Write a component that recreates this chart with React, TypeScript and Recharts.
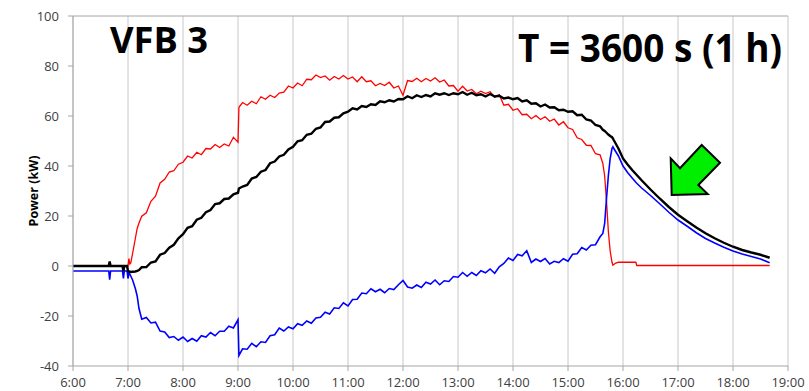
import React from "react";
import { LineChart, Line, XAxis, YAxis, CartesianGrid, ReferenceLine } from "recharts";

// sample times (h:mm), one row per hour block
const times = [
  "6:00", "6:38", "6:39", "6:40", "6:41", "6:53", "6:54", "6:55", "6:56", "6:59", "7:00", "7:01", "7:02", "7:03", "7:05", "7:08", "7:10", "7:12",
  "7:15", "7:20", "7:25", "7:30", "7:35", "7:40", "7:45", "7:50", "7:55",
  "8:00", "8:05", "8:10", "8:15", "8:20", "8:25", "8:30", "8:35", "8:40", "8:45", "8:50", "8:55",
  "9:00", "9:01", "9:05", "9:10", "9:15", "9:20", "9:25", "9:30", "9:35", "9:40", "9:45", "9:50", "9:55",
  "10:00", "10:05", "10:10", "10:15", "10:20", "10:25", "10:30", "10:35", "10:40", "10:45", "10:50", "10:55",
  "11:00", "11:05", "11:10", "11:15", "11:20", "11:25", "11:30", "11:35", "11:40", "11:45", "11:50", "11:55",
  "12:00", "12:05", "12:10", "12:15", "12:20", "12:25", "12:30", "12:35", "12:40", "12:45", "12:50", "12:55",
  "13:00", "13:05", "13:10", "13:15", "13:20", "13:25", "13:30", "13:35", "13:40", "13:45", "13:50", "13:55",
  "14:00", "14:05", "14:10", "14:15", "14:20", "14:25", "14:30", "14:35", "14:40", "14:45", "14:50", "14:55",
  "15:00", "15:05", "15:10", "15:15", "15:20", "15:25", "15:30", "15:35",
  "15:38", "15:40", "15:42", "15:44", "15:46", "15:48", "15:49", "15:50", "15:52", "15:55",
  "16:00", "16:05", "16:10", "16:14", "16:15", "16:20", "16:30", "16:40", "16:50",
  "17:00", "17:10", "17:20", "17:30", "17:40", "17:50",
  "18:00", "18:10", "18:20", "18:30", "18:40",
];

// red trace (kW)
const pvPower = [
  0, 0, 0, 0, 0, 0, 0, 0, 0, 0, 0, 3, 0.8, 1.2, 5, 11, 15, 17.2,
  19.9, 21.3, 25.9, 27.9, 33.2, 34.7, 37.6, 38.1, 40.7,
  41.5, 44.0, 43.2, 45.5, 44.5, 47.0, 46.8, 48.6, 47.4, 48.8, 48.0, 51.5,
  49.5, 63.5, 65.4, 64.3, 65.9, 64.9, 67.7, 66.7, 68.3, 67.4, 69.2, 69.5, 72.0,
  71.2, 73.2, 72.1, 74.7, 74.5, 76.4, 75.4, 76.0, 74.3, 75.8, 74.8, 76.2,
  74.8, 75.6, 73.7, 75.7, 73.7, 74.1, 72.1, 73.0, 72.2, 73.5, 71.2, 72.0,
  68.3, 74.2, 73.8, 75.1, 73.7, 75.0, 74.0, 75.3, 73.6, 74.4, 72.0, 72.2,
  69.9, 71.9, 70.0, 70.6, 68.9, 69.9, 69.0, 69.7, 67.5, 68.5, 64.3, 64.7,
  62.3, 62.9, 60.5, 60.7, 58.9, 60.2, 58.6, 59.7, 57.9, 58.8, 56.4, 57.7,
  55.3, 54.6, 51.3, 50.6, 48.3, 48.2, 44.9, 44.5,
  41, 36, 26, 14, 6, 1.5, 0.3, 0.6, 1.2, 1.5,
  1.5, 1.5, 1.5, 1.5, 0.2, 0.2, 0.2, 0.2, 0.2,
  0.2, 0.2, 0.2, 0.2, 0.2, 0.2,
  0.2, 0.2, 0.2, 0.2, 0.2,
];

// black trace (kW)
const gridPower = [
  0, 0, 0, 1.8, 0, 0, 0, -2, 0, 0, -2, -2.3, -2.2, -2.4, -2.3, -2.2, -2.0, -1.6,
  -0.5, -0.4, 1.4, 1.8, 4.5, 5.2, 7.3, 8.5, 11.1,
  12.7, 15.3, 15.9, 18.5, 19.3, 21.5, 22.4, 24.8, 25.1, 26.8, 27.0, 28.7,
  29.3, 31.0, 31.8, 32.4, 35.0, 35.6, 37.7, 38.4, 41.1, 41.8, 43.8, 44.5, 46.6,
  47.7, 49.9, 50.3, 52.5, 52.9, 54.9, 55.4, 57.6, 57.8, 59.3, 59.5, 61.1,
  61.7, 63.1, 62.6, 64.0, 63.6, 64.7, 64.4, 65.9, 65.5, 66.3, 65.8, 66.8,
  66.7, 67.9, 67.1, 68.3, 67.6, 68.4, 67.8, 69.1, 68.5, 69.1, 68.4, 69.1,
  68.7, 69.6, 68.5, 69.3, 68.3, 68.7, 67.8, 68.8, 67.8, 68.1, 67.0, 67.4,
  66.7, 67.2, 65.8, 66.3, 64.9, 65.1, 63.8, 64.6, 63.4, 63.5, 62.3, 62.5,
  61.7, 61.9, 60.3, 60.5, 58.6, 58.2, 56.4, 55.9,
  54.5, 54.0, 53.3, 52.6, 52.0, 51.5, 51.0, 50.3, 49.0, 47.0,
  43.0, 40.6, 38.4, 36.8, 36.4, 34.4, 30.6, 27.0, 23.6,
  20.5, 17.9, 15.4, 13.1, 11.1, 9.3,
  7.7, 6.4, 5.4, 4.5, 3.3,
];

// blue trace (kW)
const batteryPower = [
  -2, -2, -2, -5.5, -2, -2, -2, -5, -2, -2, -5, -3, -3.2, -4, -5.6, -9, -12, -17,
  -21.3, -20.6, -22.8, -22.5, -26.0, -26.4, -28.6, -28.2, -29.7,
  -28.4, -30.2, -29.0, -30.1, -27.9, -28.4, -26.6, -27.9, -26.1, -26.1, -24.1, -24.8,
  -21.5, -35.8, -33.1, -33.3, -30.9, -32.3, -30.3, -30.6, -27.9, -27.5, -24.8, -26.0, -24.4,
  -25.1, -23.1, -23.7, -22.0, -22.9, -20.8, -20.5, -18.5, -19.2, -16.7, -17.0, -14.7,
  -16.0, -13.4, -13.3, -10.8, -11.1, -9.1, -10.3, -9.3, -10.7, -9.0, -9.4, -7.5,
  -5.8, -8.4, -8.9, -7.6, -8.6, -6.5, -7.2, -5.6, -7.5, -5.9, -6.2, -4.2,
  -4.5, -2.6, -4.1, -2.6, -3.8, -1.9, -2.7, -1.2, -2.9, -0.3, 1.0, 3.2,
  2.2, 4.6, 4.1, 6.1, 1.4, 2.8, 1.8, 3.0, 0.8, 1.9, 1.4, 2.9,
  1.9, 4.7, 4.9, 7.4, 6.4, 8.3, 8.5, 11.7,
  13, 17, 27, 36, 43, 47, 47.7, 47, 45.8, 44,
  40, 37.4, 35.2, 33.5, 33.1, 31.3, 28.2, 24.9, 21.5,
  18.4, 15.9, 13.3, 11.0, 9.2, 7.5,
  6.0, 4.8, 3.8, 2.8, 1.3,
];

const hourTicks = [6, 7, 8, 9, 10, 11, 12, 13, 14, 15, 16, 17, 18, 19];
const powerTicks = [-40, -20, 0, 20, 40, 60, 80, 100];

function toHours(t: string) {
  const [h, m] = t.split(":").map(Number);
  return h + m / 60;
}

const data = times.map((t, i) => ({
  time: toHours(t),
  pv: pvPower[i],
  grid: gridPower[i],
  battery: batteryPower[i],
}));

const axisGray = "#a6a6a6";
const tickStyle = { fill: "#404040", fontSize: 13, fontFamily: "Open Sans" };

export default function App() {
  return (
    <div style={{ position: "relative", width: 809, height: 391, background: "#fff" }}>
      <style>{`body { margin: 0; }`}</style>
      <LineChart width={809} height={391} data={data} margin={{ top: 16, right: 21, bottom: 0, left: 0 }}>
        <CartesianGrid horizontal={false} stroke="#c8c8c8" />
        <XAxis
          dataKey="time"
          type="number"
          domain={[6, 19]}
          ticks={hourTicks}
          tickFormatter={(h) => `${h}:00`}
          height={25}
          tickSize={5}
          tickMargin={7}
          stroke={axisGray}
          tick={tickStyle}
        />
        <YAxis
          domain={[-40, 100]}
          ticks={powerTicks}
          width={73}
          tickSize={5}
          tickMargin={9}
          stroke={axisGray}
          tick={tickStyle}
        />
        <ReferenceLine y={100} stroke={axisGray} />
        <Line type="linear" dataKey="pv" stroke="#ff0000" strokeWidth={1.3} dot={false} isAnimationActive={false} />
        <Line type="linear" dataKey="battery" stroke="#0000ff" strokeWidth={1.6} dot={false} isAnimationActive={false} />
        <Line type="linear" dataKey="grid" stroke="#000000" strokeWidth={2.4} dot={false} isAnimationActive={false} />
      </LineChart>
      <svg width={809} height={391} style={{ position: "absolute", left: 0, top: 0, pointerEvents: "none" }}>
        <text x={110} y={53} fontFamily="Open Sans" fontWeight="bold" fontSize={36} textLength={98} lengthAdjust="spacingAndGlyphs" fill="#000">
          VFB 3
        </text>
        <text x={518} y={62} fontFamily="Open Sans" fontWeight="bold" fontSize={39} textLength={264} lengthAdjust="spacingAndGlyphs" fill="#000">
          T = 3600 s (1 h)
        </text>
        <text transform="translate(37.5,191) rotate(-90)" textAnchor="middle" fontFamily="Open Sans" fontWeight="bold" fontSize={12.5} fill="#000">
          Power  (kW)
        </text>
        <polygon
          points="671.7,195 670.7,158.3 680,168.3 701.7,145 720,162.7 698.3,185 707.7,194"
          fill="#00ee00"
          stroke="#000"
          strokeWidth={2}
          strokeLinejoin="miter"
        />
      </svg>
    </div>
  );
}
